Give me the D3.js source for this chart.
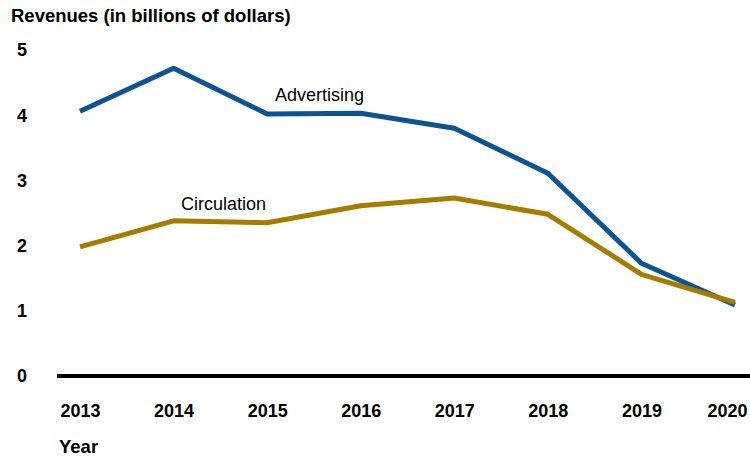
<!DOCTYPE html>
<html>
<head>
<meta charset="utf-8">
<script src="https://cdn.jsdelivr.net/npm/d3@7"></script>
<style>
  body { margin: 0; background: #fff; }
  svg { display: block; font-family: Arial, "Liberation Sans", sans-serif; }
</style>
</head>
<body>
<div id="container"></div>
<script>
// Chart size
const width = 750;
const height = 458;

// Data
const years = [2013, 2014, 2015, 2016, 2017, 2018, 2019, 2020];
const advertising = [4.06, 4.72, 4.02, 4.03, 3.80, 3.11, 1.73, 1.09];
const circulation = [1.98, 2.38, 2.35, 2.61, 2.73, 2.48, 1.56, 1.13];
const yTicks = [0, 1, 2, 3, 4, 5];

const blue = "#0b5394";
const gold = "#a67c00";

const svg = d3.select("#container")
    .append("svg")
    .attr("width", width)
    .attr("height", height);

// Scales
const x = d3.scalePoint()
    .domain(years)
    .range([80, 735]);

const y = d3.scaleLinear()
    .domain([0, 5])
    .range([376, 50]);

// Title
svg.append("text")
    .attr("x", 11)
    .attr("y", 22)
    .attr("font-size", "18.5px")
    .attr("font-weight", "bold")
    .attr("fill", "#000")
    .text("Revenues (in billions of dollars)");

// Y tick labels
svg.append("g")
    .selectAll("text")
    .data(yTicks)
    .enter()
    .append("text")
    .attr("x", 22)
    .attr("y", d => y(d))
    .attr("dy", "0.35em")
    .attr("text-anchor", "middle")
    .attr("font-size", "18px")
    .attr("font-weight", "bold")
    .text(d => d);

// X axis (baseline + year labels)
const xAxis = svg.append("g")
    .attr("transform", `translate(0, ${y(0)})`)
    .call(d3.axisBottom(x).tickSize(0).tickPadding(28));

xAxis.select(".domain").remove();
xAxis.append("line")
    .attr("x1", 57)
    .attr("x2", width)
    .attr("stroke", "#000")
    .attr("stroke-width", 4);

xAxis.selectAll("text")
    .attr("font-family", "Arial, 'Liberation Sans', sans-serif")
    .attr("font-size", "18px")
    .attr("font-weight", "bold")
    .attr("fill", "#000");

// last year label is pulled in so it stays inside the frame
xAxis.selectAll(".tick")
    .filter(d => d === years[years.length - 1])
    .select("text")
    .attr("dx", -8);

svg.append("text")
    .attr("x", 59)
    .attr("y", 453)
    .attr("font-size", "18.5px")
    .attr("font-weight", "bold")
    .text("Year");

// Lines
const lineGen = d3.line()
    .x((d, i) => x(years[i]))
    .y(d => y(d));

svg.append("path")
    .datum(advertising)
    .attr("fill", "none")
    .attr("stroke", blue)
    .attr("stroke-width", 5)
    .attr("stroke-linejoin", "round")
    .attr("d", lineGen);

svg.append("path")
    .datum(circulation)
    .attr("fill", "none")
    .attr("stroke", gold)
    .attr("stroke-width", 5)
    .attr("stroke-linejoin", "round")
    .attr("d", lineGen);

// Series labels
svg.append("text")
    .attr("x", 275)
    .attr("y", 101)
    .attr("font-size", "18px")
    .text("Advertising");

svg.append("text")
    .attr("x", 181)
    .attr("y", 210)
    .attr("font-size", "18px")
    .text("Circulation");
</script>
</body>
</html>
